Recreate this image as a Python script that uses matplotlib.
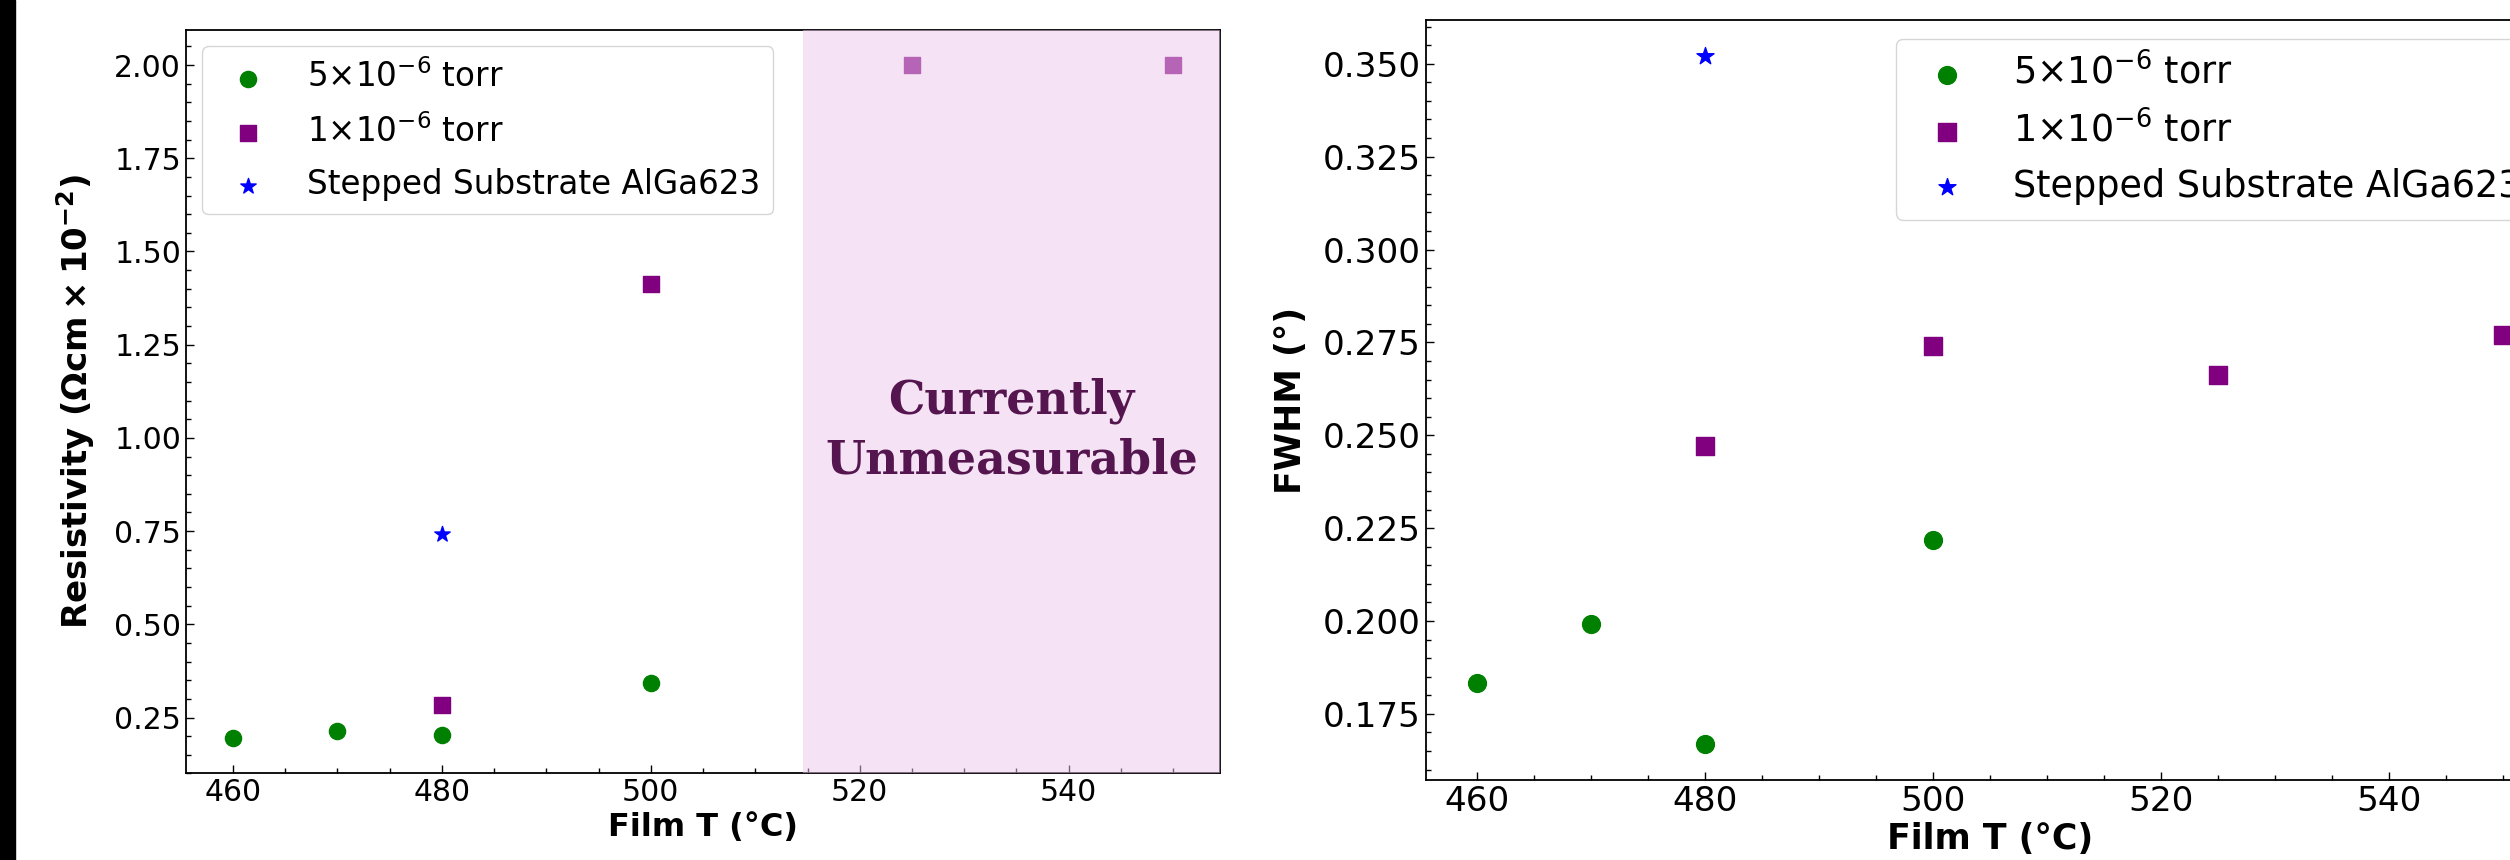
import matplotlib
matplotlib.use("Agg")
import matplotlib.pyplot as plt
from matplotlib.patches import Rectangle

# film temperature (C) and measurements
t_high = [460, 470, 480, 500]          # 5e-6 torr
t_low = [480, 500, 525, 550]           # 1e-6 torr
t_step = [480]                         # stepped substrate

res_high = [0.194, 0.215, 0.202, 0.344]
res_low = [0.284, 1.412, 2.00, 2.00]
res_step = [0.743]

fwhm_high = [0.1832, 0.1991, 0.1668, 0.2219]
fwhm_low = [0.2472, 0.2739, 0.2661, 0.2769]
fwhm_step = [0.352]

labels = [r'5$\times$10$^{-6}$ torr', r'1$\times$10$^{-6}$ torr',
          'Stepped Substrate AlGa623']
colors = ['green', 'purple', 'blue']
markers = ['o', 's', '*']

span = (514.6, 554.5)
xlim = (455.5, 554.5)

fig = plt.figure(figsize=(25.1, 8.6), dpi=100)
fig.patches.append(Rectangle((0, 0), 15 / 2510, 1, transform=fig.transFigure,
                             color='black', zorder=10))


def style(ax, tick_fs, label_fs):
    ax.minorticks_on()
    ax.tick_params(which='both', direction='in', top=False, right=False,
                   labelsize=tick_fs, width=1.0)
    ax.tick_params(which='major', length=6)
    ax.tick_params(which='minor', length=3.5)
    for s in ax.spines.values():
        s.set_linewidth(1.3)
    ax.set_xlim(*xlim)
    ax.set_xlabel('Film T (°C)', fontsize=label_fs, fontweight='bold', labelpad=3)


# left panel: resistivity
ax1 = fig.add_axes([0.0741, 0.1006, 0.4120, 0.8645])
series = [(t_high, res_high), (t_low, res_low), (t_step, res_step)]
for (x, y), c, m, lab in zip(series, colors, markers, labels):
    ax1.scatter(x, y, c=c, marker=m, s=135, label=lab, zorder=2)
ax1.axvspan(span[0], span[1], color='#EDC9ED', alpha=0.5, lw=0, zorder=3)
ax1.text(sum(span) / 2, 1.02, 'Currently\nUnmeasurable', ha='center', va='center',
         fontsize=33, fontweight='bold', family='DejaVu Serif', color='#551650',
         linespacing=1.4, zorder=4)
style(ax1, 21.5, 23)
ax1.set_ylim(0.1, 2.094)
ax1.set_ylabel(r'Resistivity ($\mathbf{\Omega cm\times10^{-2}}$)',
               fontsize=24.5, fontweight='bold', labelpad=12)
ax1.legend(loc='upper left', fontsize=23.5, labelspacing=0.6)

# right panel: FWHM
ax2 = fig.add_axes([0.5681, 0.0930, 0.4494, 0.8834])
series = [(t_high, fwhm_high), (t_low, fwhm_low), (t_step, fwhm_step)]
for (x, y), c, m, lab in zip(series, colors, markers, labels):
    ax2.scatter(x, y, c=c, marker=m, s=165, label=lab)
style(ax2, 24.7, 25)
ax2.set_ylim(0.1572, 0.3617)
ax2.set_ylabel('FWHM (°)', fontsize=25, fontweight='bold', labelpad=11)
ax2.legend(loc='upper right', fontsize=26.3)

fig.savefig('out.png', dpi=100)
